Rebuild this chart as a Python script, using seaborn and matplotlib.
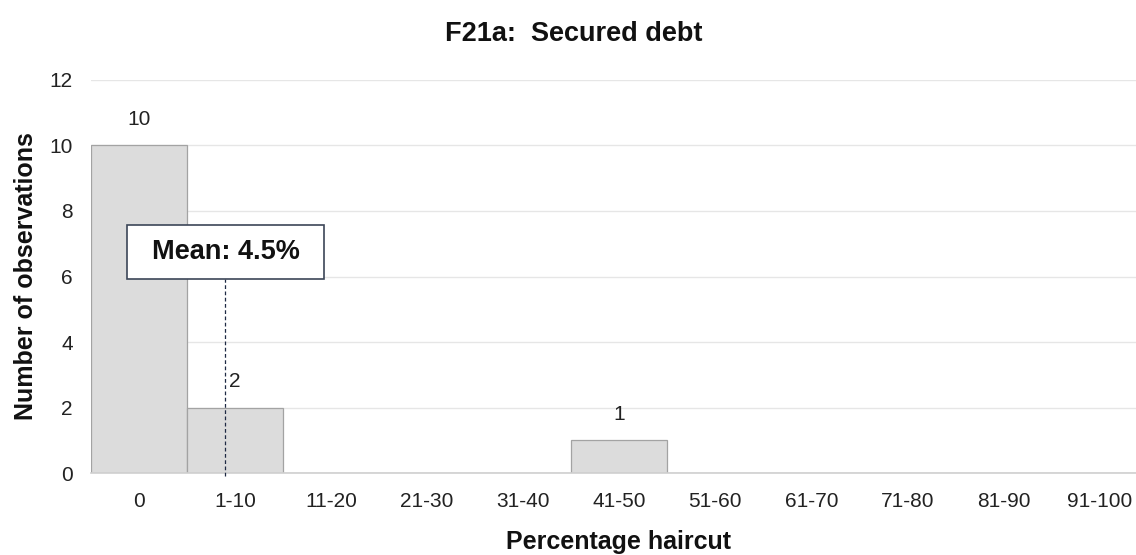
import matplotlib
matplotlib.use("Agg")
import matplotlib.pyplot as plt
from matplotlib.patches import Rectangle
import seaborn as sns
import pandas as pd

# Data
categories = ["0", "1-10", "11-20", "21-30", "31-40", "41-50",
              "51-60", "61-70", "71-80", "81-90", "91-100"]
observations = [10, 2, 0, 0, 0, 1, 0, 0, 0, 0, 0]
mean_haircut = 4.5

sns.set_theme(style="white")
plt.rcParams['font.family'] = ['Liberation Sans', 'DejaVu Sans']

df = pd.DataFrame({"haircut": categories, "obs": observations})

fig = plt.figure(figsize=(11.36, 5.55), dpi=100)
ax = fig.add_axes([0.0801, 0.1477, 0.9199, 0.7082])

ax.yaxis.grid(True, color="#e6e6e6", linewidth=1.0)
ax.set_axisbelow(True)

sns.barplot(data=df, x="haircut", y="obs", color="#dcdcdc", saturation=1,
            width=1.0, edgecolor="#a3a3a3", linewidth=0.9, ax=ax, zorder=2)

# value labels for non-empty bins
for i, v in enumerate(observations):
    if v > 0:
        ax.text(i, v + 0.5, str(v), ha="center", va="bottom",
                fontsize=15, color="#222222")

ax.set_xlim(-0.5, 10.38)
ax.set_ylim(0, 12)
ax.set_yticks(range(0, 13, 2))

for s in ["top", "right", "left"]:
    ax.spines[s].set_visible(False)
ax.spines["bottom"].set_color("#d0d0d0")
ax.spines["bottom"].set_linewidth(1.2)

ax.tick_params(axis="both", labelsize=15, colors="#222222", length=0)
ax.tick_params(axis="x", pad=14)
ax.tick_params(axis="y", pad=13)

ax.set_xlabel("Percentage haircut", fontsize=18, fontweight="bold", color="#111111")
ax.xaxis.set_label_coords(0.505, -0.145)
ax.set_ylabel("Number of observations", fontsize=18, fontweight="bold", color="#111111")
ax.yaxis.set_label_coords(-0.051, 0.5)
ax.set_title("F21a:  Secured debt", fontsize=19.5, fontweight="bold",
             color="#111111", pad=28, x=0.462)

# mean marker: category 1 covers 0.5..10.5 %
mean_pos = 0.5 + (mean_haircut - 0.5) / 10
ax.plot([mean_pos, mean_pos], [-0.1, 5.92], linestyle=(0, (3, 2)),
        color="#1f2a44", linewidth=0.9, zorder=4, clip_on=False)
ax.add_patch(Rectangle((-0.125, 5.92), 2.055, 1.65, facecolor="white",
                       edgecolor="#3c4658", linewidth=1.2, zorder=5))
ax.text(0.9, 6.75, f"Mean: {mean_haircut}%", ha="center", va="center",
        fontsize=19.5, fontweight="bold", color="#111111", zorder=6)

fig.savefig("out.png", dpi=100)
